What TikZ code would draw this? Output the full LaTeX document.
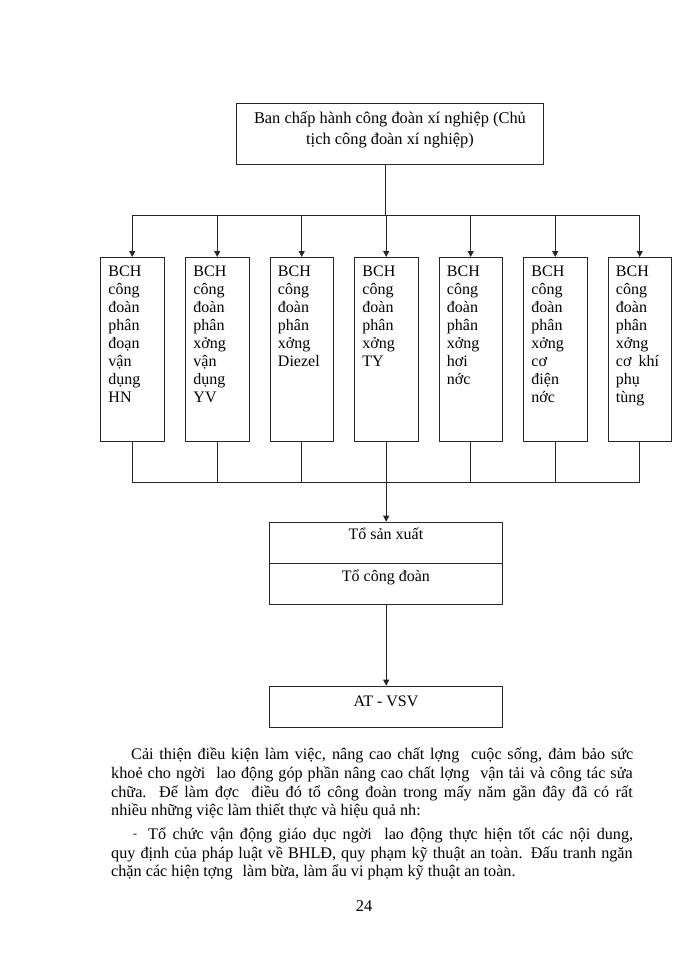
\documentclass[tikz,border=0pt]{standalone}
\usepackage{fontspec}
\setmainfont{Liberation Serif}
\usetikzlibrary{arrows.meta}
\newcommand\bchtext[1]{\parbox[t][184pt][t]{63.5pt}{\raggedright\leftskip=8pt\baselineskip=18pt\rule{0pt}{19pt}#1}}
\begin{document}
\begin{tikzpicture}[x=1pt,y=-1pt,
  font=\fontsize{16}{18}\selectfont,
  ln/.style={line width=0.9pt, draw=black!85},
  arr/.style={ln, -{Triangle[width=6pt,length=6pt]}},
  bx/.style={ln, inner sep=0pt, anchor=north west},
  txt/.style={inner sep=0pt, anchor=base west, font=\fontsize{16.2}{19}\selectfont}]
\useasboundingbox (0,0) rectangle (700,960);
% top box
\node[bx, font=\fontsize{16.4}{21}\selectfont] (top) at (236,103) {\parbox[t][61pt][t]{307pt}{\centering\baselineskip=21pt\rule{0pt}{20.3pt}Ban chấp hành công đoàn xí nghiệp (Chủ\\tịch công đoàn xí nghiệp)}};
% BCH boxes
\node[bx] (b1) at (100,257)   {\bchtext{BCH\\công\\đoàn\\phân\\đoạn\\vận\\dụng\\HN}};
\node[bx] (b2) at (185,257)   {\bchtext{BCH\\công\\đoàn\\phân\\xởng\\vận\\dụng\\YV}};
\node[bx] (b3) at (269.5,257) {\bchtext{BCH\\công\\đoàn\\phân\\xởng\\Diezel}};
\node[bx] (b4) at (354,257)   {\bchtext{BCH\\công\\đoàn\\phân\\xởng\\TY}};
\node[bx] (b5) at (438.5,257) {\bchtext{BCH\\công\\đoàn\\phân\\xởng\\hơi\\nớc}};
\node[bx] (b6) at (523,257)   {\bchtext{BCH\\công\\đoàn\\phân\\xởng\\cơ\\điện\\nớc}};
\node[bx] (b7) at (607.5,257) {\bchtext{BCH\\công\\đoàn\\phân\\xởng\\cơ\hspace{7pt}khí\\phụ\\tùng}};
% lower boxes
\node[bx] (t1) at (269,521.7) {\parbox[t][41pt][t]{233pt}{\centering\rule{0pt}{17.6pt}Tổ sản xuất}};
\node[bx] (t2) at (269,562.7) {\parbox[t][41.3pt][t]{233pt}{\centering\rule{0pt}{18.3pt}Tổ công đoàn}};
\node[bx] (at) at (269,685.7) {\parbox[t][41.3pt][t]{233pt}{\centering\rule{0pt}{20.3pt}AT - VSV}};
% connectors
\coordinate (busT) at (385.75,215.7);
\coordinate (busB) at (385.75,482.7);
\draw[ln] (top.south -| busT) -- (busT);
\draw[ln] (b1.north |- busT) -- (b7.north |- busT);
\foreach \b in {b1,b2,b3,b4,b5,b6,b7}{
  \draw[arr] (\b.north |- busT) -- (\b.north);
  \draw[ln] (\b.south) -- (\b.south |- busB);
}
\draw[ln] (b1.south |- busB) -- (b7.south |- busB);
\draw[arr] (b4.south) -- (b4.south |- t1.north);
\draw[arr] (t2.south -| b4.south) -- (b4.south |- at.north);
% paragraph
\node[txt] (p1) at (131,759.3) {\makebox[502pt][s]{Cải thiện điều kiện làm việc, nâng cao chất lợng\hspace{6pt} cuộc sống, đảm bảo sức}};
\node[txt] (p2) at (111,778.7) {\makebox[521.5pt][s]{khoẻ cho ngời\hspace{6pt} lao động góp phần nâng cao chất lợng\hspace{6pt} vận tải và công tác sửa}};
\node[txt] (p3) at (111,797.3) {\makebox[521.5pt][s]{chữa. Để làm đợc\hspace{6pt} điều đó tổ công đoàn trong mấy năm gần đây đã có rất}};
\node[txt] (p4) at (111,815.8) {nhiều những việc làm thiết thực và hiệu quả nh:};
\node[txt] (p5b) at (133,837.5) {\fontsize{12}{12}\selectfont -};
\node[txt] (p5) at (148,839.3) {\makebox[485pt][s]{Tổ chức vận động giáo dục ngời\hspace{6pt} lao động thực hiện tốt các nội dung,}};
\node[txt] (p6) at (111,858.3) {\makebox[521.5pt][s]{quy định của pháp luật về BHLĐ, quy phạm kỹ thuật an toàn. Đấu tranh ngăn}};
\node[txt] (p7) at (111,876.7) {chặn các hiện tợng\hspace{6pt} làm bừa, làm ẩu vi phạm kỹ thuật an toàn.};
\node[inner sep=0pt, anchor=base, font=\fontsize{16.5}{18}\selectfont] (pg) at (364,911.7) {24};
\end{tikzpicture}
\end{document}
